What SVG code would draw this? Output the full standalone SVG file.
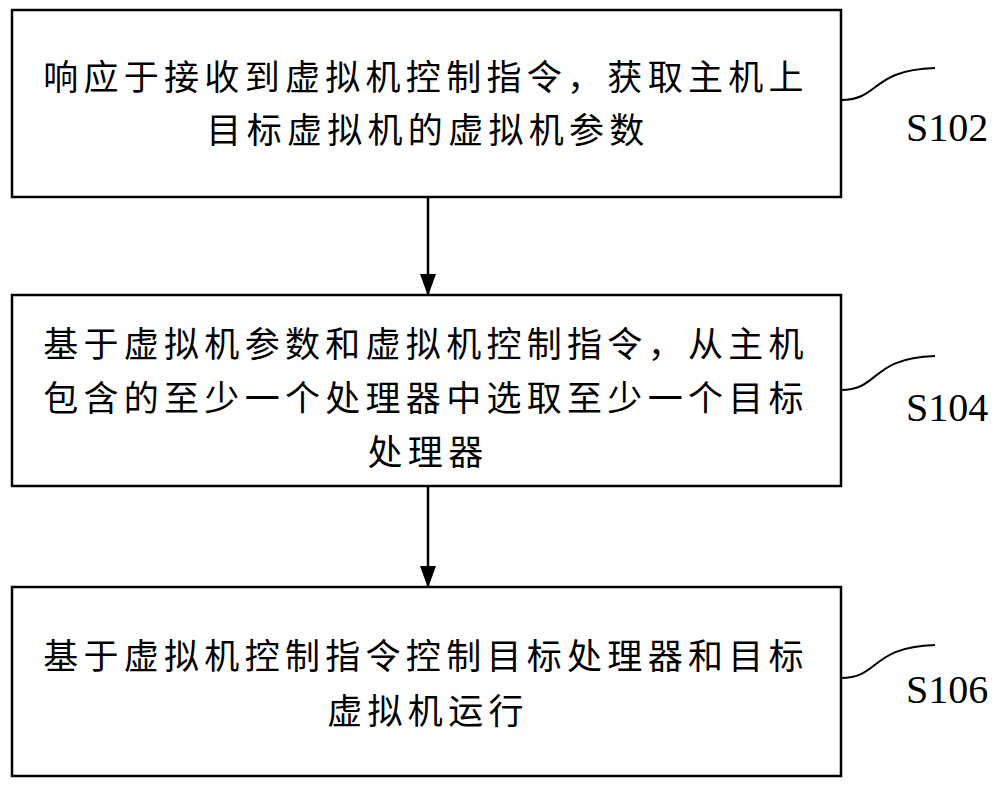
<svg xmlns="http://www.w3.org/2000/svg" width="1000" height="786" viewBox="0 0 1000 786">
<style>
.box{fill:#fff;stroke:#000;stroke-width:2.5}
.t{font-family:"Noto Sans CJK SC",sans-serif;font-size:35px;letter-spacing:5.3px;text-anchor:middle}
.l{font-family:"Liberation Serif",serif;font-size:40px}
.c{fill:none;stroke:#000;stroke-width:2}
</style>
<defs><marker id="a" markerWidth="22" markerHeight="16" refX="20" refY="8" orient="auto" markerUnits="userSpaceOnUse" viewBox="0 0 22 16"><path d="M0,0L22,8L0,16z"/></marker></defs>
<rect width="1000" height="786" fill="#fff"/>
<g id="n1"><rect class="box" x="12" y="10" width="829" height="187"/>
<text class="t" x="426" y="90">响应于接收到虚拟机控制指令，获取主机上</text>
<text class="t" x="428" y="143">目标虚拟机的虚拟机参数</text></g>
<g id="n2"><rect class="box" x="12" y="295" width="829" height="191"/>
<text class="t" x="426" y="357">基于虚拟机参数和虚拟机控制指令，从主机</text>
<text class="t" x="426" y="411">包含的至少一个处理器中选取至少一个目标</text>
<text class="t" x="428" y="465">处理器</text></g>
<g id="n3"><rect class="box" x="12" y="587" width="829" height="189"/>
<text class="t" x="426" y="669">基于虚拟机控制指令控制目标处理器和目标</text>
<text class="t" x="428" y="724">虚拟机运行</text></g>
<g id="connectors">
<line class="c" x1="428" y1="197" x2="428" y2="294" marker-end="url(#a)" style="stroke-width:2.5"/>
<line class="c" x1="428" y1="486" x2="428" y2="586" marker-end="url(#a)" style="stroke-width:2.5"/>
<path class="c" d="M841,100 C880,100 870,70 935,68"/>
<path class="c" d="M841,390 C880,390 870,358 935,356"/>
<path class="c" d="M841,678 C880,678 870,647 935,645"/>
</g>
<text class="l" x="906" y="141">S102</text>
<text class="l" x="906" y="421">S104</text>
<text class="l" x="906" y="703">S106</text>
</svg>
